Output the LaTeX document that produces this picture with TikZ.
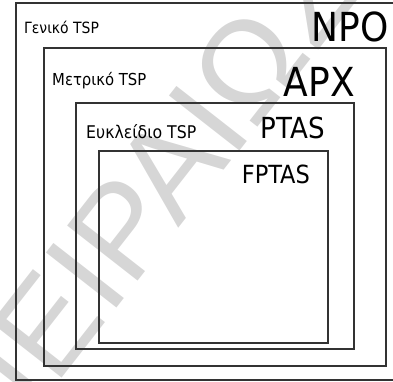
\documentclass[tikz,border=0pt]{standalone}
\usepackage{fontspec}
\setmainfont{DejaVu Sans Condensed}
\newfontfamily\markfont{Liberation Sans}
\usepackage{tikz}
\usepackage{xcolor}

\begin{document}
\begin{tikzpicture}[x=1pt,y=1pt,
  setbox/.style={draw=black!80,line width=1.4pt},
  setlabel/.style={inner sep=0pt,anchor=base west},
  classlabel/.style={inner sep=0pt,anchor=base east}]
\useasboundingbox (0,0) rectangle (393,-382);
\begin{scope}
\clip (0,0) rectangle (393,-382);
\node[text=black!16,rotate=52,inner sep=0pt] (mark) at (145,-198) {\markfont\fontsize{130}{130}\selectfont ΠΕΙΡΑΙΩΣ};
\draw[setbox] (16,-3) rectangle (396,-380);
\end{scope}
\draw[setbox] (44,-48) rectangle (386,-366);
\draw[setbox] (76,-103) rectangle (354,-349);
\draw[setbox] (99,-151) rectangle (328,-343);
\node[setlabel,font=\fontsize{15.5}{15.5}\selectfont] (geniko) at (24,-34) {Γενικό TSP};
\node[setlabel,font=\fontsize{16.5}{16.5}\selectfont] (metriko) at (52,-86) {Μετρικό TSP};
\node[setlabel,font=\fontsize{17.5}{17.5}\selectfont] (eukleidio) at (86,-139) {Ευκλείδιο TSP};
\node[classlabel,font=\fontsize{40}{40}\selectfont] (npo) at (389,-42) {NPO};
\node[classlabel,font=\fontsize{40}{40}\selectfont] (apx) at (355,-97) {APX};
\node[classlabel,font=\fontsize{29}{29}\selectfont] (ptas) at (325,-139) {PTAS};
\node[classlabel,font=\fontsize{25}{25}\selectfont] (fptas) at (310,-183) {FPTAS};
\end{tikzpicture}
\end{document}
